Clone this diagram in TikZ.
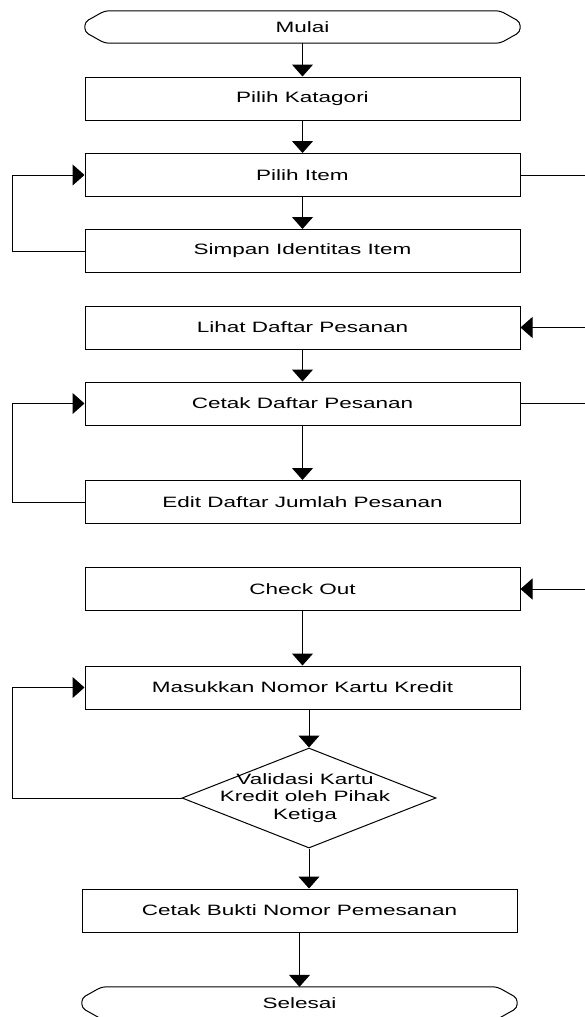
\documentclass[tikz,border=0pt]{standalone}
\usepackage{fontspec}
\setmainfont{Liberation Sans}[FakeStretch=1.5]
\usepackage{tikz}
\usetikzlibrary{shapes.geometric, positioning, arrows.meta, calc}

\begin{document}
\begin{tikzpicture}[x=1pt,y=-1pt,
% Boxes and symbols style
    proc/.style={rectangle,draw,line width=1pt,minimum width=435pt,
		minimum height=43pt,inner sep=0pt},
    term/.style={rectangle,minimum width=435pt,minimum height=32pt,
		inner sep=0pt},
    decide/.style={diamond,draw,line width=1pt,minimum width=254pt,
		minimum height=100pt,inner sep=0pt},
% Text style
    every node/.style={font=\fontsize{15}{17.5}\selectfont},
% Connector style
    flow/.style={line width=1pt,-{Triangle[width=21pt,length=12pt]}},
    link/.style={line width=1pt}
    ]
   \useasboundingbox (0,0) rectangle (585,1017);
   \clip (0,0) rectangle (585,1017);
%% Place steps
   \node [term]	(start)		at (302.5,27)	{Mulai};
   \node [proc]	(kategori)	at (302.5,98.5)	{Pilih Katagori};
   \node [proc]	(item)		at (302.5,175)	{Pilih Item};
   \node [proc]	(simpan)	at (302.5,251)	{Simpan Identitas Item};
   \node [proc]	(lihat)		at (302.5,327.5)	{Lihat Daftar Pesanan};
   \node [proc]	(cetak)		at (302.5,403.5)	{Cetak Daftar Pesanan};
   \node [proc]	(edit)		at (302.5,502)	{Edit Daftar Jumlah Pesanan};
   \node [proc]	(checkout)	at (302.5,589)	{Check Out};
   \node [proc]	(kartu)		at (302.5,687.5)	{Masukkan Nomor Kartu Kredit};
   \node [decide] (valid)	at (309,798)	{};
   \node [align=center] (validtext) at (305,798)
		{Validasi Kartu\\Kredit oleh Pihak\\Ketiga};
   \node [proc]	(bukti)		at (299.5,910.5)	{Cetak Bukti Nomor Pemesanan};
   \node [term]	(finish)	at (299.5,1003)	{Selesai};
%% Terminal outlines
   \foreach \t in {start,finish}
      \draw [link,rounded corners=4pt] ($(\t.north west)+(20,0)$)
		-- ($(\t.north east)+(-20,0)$) -- ($(\t.east)+(0,-5)$)
		-- ($(\t.east)+(0,5)$) -- ($(\t.south east)+(-20,0)$)
		-- ($(\t.south west)+(20,0)$) -- ($(\t.west)+(0,5)$)
		-- ($(\t.west)+(0,-5)$) -- cycle;
%% Side rails
   \coordinate (lx) at (12,0);
   \coordinate (rx) at (592,0);
%% Draw flow
   \draw [flow] (start) -- (kategori);
   \draw [flow] (kategori) -- (item);
   \draw [flow] (item) -- (simpan);
   \draw [flow] (simpan.west) -- (simpan.west -| lx) |- (item.west);
   \draw [flow] (item.east) -- (item.east -| rx) |- (lihat.east);
   \draw [flow] (lihat) -- (cetak);
   \draw [flow] (cetak) -- (edit);
   \draw [flow] (edit.west) -- (edit.west -| lx) |- (cetak.west);
   \draw [flow] (cetak.east) -- (cetak.east -| rx) |- (checkout.east);
   \draw [flow] (checkout) -- (kartu);
   \draw [flow] (kartu.south -| valid.north) -- (valid.north);
   \draw [flow] (valid.west) -- (valid.west -| lx) |- (kartu.west);
   \draw [flow] (valid.south) -- (bukti.north -| valid.south);
   \draw [flow] (bukti) -- (finish);
\end{tikzpicture}
\end{document}
